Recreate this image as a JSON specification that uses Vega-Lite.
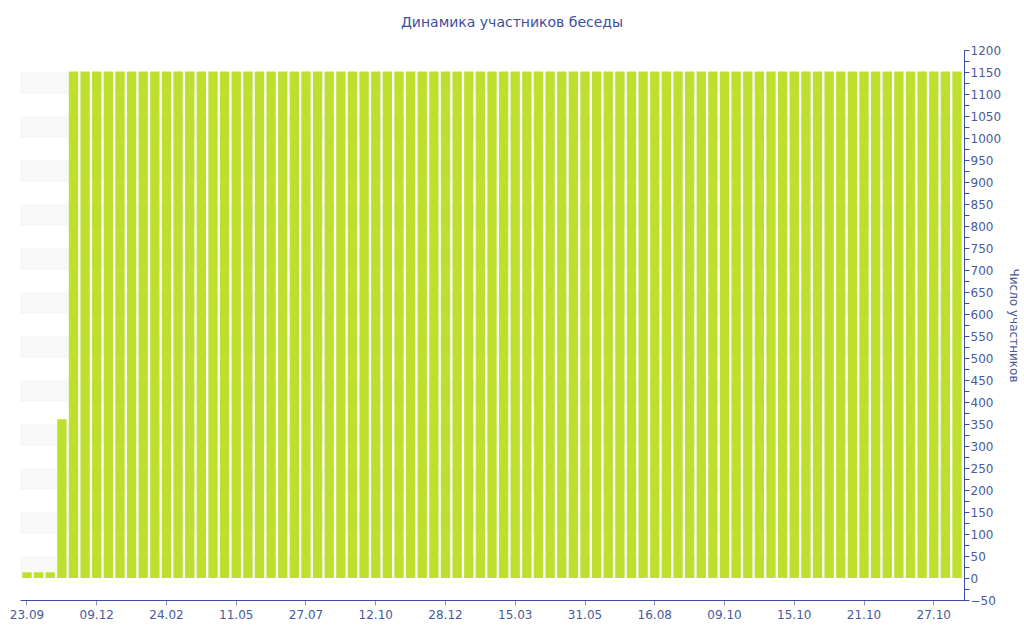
{
  "$schema": "https://vega.github.io/schema/vega-lite/v6.json",
  "width": 944,
  "height": 550,
  "autosize": {"type": "none"},
  "padding": {"left": 20, "top": 50, "right": 60, "bottom": 40},
  "background": "white",
  "title": {
    "text": "Динамика участников беседы",
    "font": "DejaVu Sans",
    "fontSize": 14,
    "fontWeight": "normal",
    "color": "#3d4e9e",
    "anchor": "middle",
    "offset": 14,
    "dx": 20
  },
  "config": {"view": {"stroke": null}, "axis": {"labelOverlap": false}},
  "datasets": {
    "stripes": [
      {"lo": 0, "hi": 50}, {"lo": 100, "hi": 150}, {"lo": 200, "hi": 250}, {"lo": 300, "hi": 350},
      {"lo": 400, "hi": 450}, {"lo": 500, "hi": 550}, {"lo": 600, "hi": 650}, {"lo": 700, "hi": 750},
      {"lo": 800, "hi": 850}, {"lo": 900, "hi": 950}, {"lo": 1000, "hi": 1050}, {"lo": 1100, "hi": 1150}
    ],
    "members": [
      {"date": "23.09.2019", "count": 13},
      {"date": "06.10.2019", "count": 13},
      {"date": "19.10.2019", "count": 13},
      {"date": "01.11.2019", "count": 361},
      {"date": "14.11.2019", "count": 1151},
      {"date": "27.11.2019", "count": 1151},
      {"date": "09.12.2019", "count": 1151},
      {"date": "22.12.2019", "count": 1151},
      {"date": "04.01.2020", "count": 1151},
      {"date": "17.01.2020", "count": 1151},
      {"date": "30.01.2020", "count": 1151},
      {"date": "12.02.2020", "count": 1151},
      {"date": "24.02.2020", "count": 1151},
      {"date": "08.03.2020", "count": 1151},
      {"date": "21.03.2020", "count": 1151},
      {"date": "03.04.2020", "count": 1151},
      {"date": "16.04.2020", "count": 1151},
      {"date": "29.04.2020", "count": 1151},
      {"date": "11.05.2020", "count": 1151},
      {"date": "24.05.2020", "count": 1151},
      {"date": "06.06.2020", "count": 1151},
      {"date": "19.06.2020", "count": 1151},
      {"date": "02.07.2020", "count": 1151},
      {"date": "15.07.2020", "count": 1151},
      {"date": "27.07.2020", "count": 1151},
      {"date": "09.08.2020", "count": 1151},
      {"date": "22.08.2020", "count": 1151},
      {"date": "04.09.2020", "count": 1151},
      {"date": "17.09.2020", "count": 1151},
      {"date": "30.09.2020", "count": 1151},
      {"date": "12.10.2020", "count": 1151},
      {"date": "25.10.2020", "count": 1151},
      {"date": "07.11.2020", "count": 1151},
      {"date": "20.11.2020", "count": 1151},
      {"date": "03.12.2020", "count": 1151},
      {"date": "16.12.2020", "count": 1151},
      {"date": "28.12.2020", "count": 1151},
      {"date": "10.01.2021", "count": 1151},
      {"date": "23.01.2021", "count": 1151},
      {"date": "05.02.2021", "count": 1151},
      {"date": "18.02.2021", "count": 1151},
      {"date": "03.03.2021", "count": 1151},
      {"date": "15.03.2021", "count": 1151},
      {"date": "28.03.2021", "count": 1151},
      {"date": "10.04.2021", "count": 1151},
      {"date": "23.04.2021", "count": 1151},
      {"date": "06.05.2021", "count": 1151},
      {"date": "19.05.2021", "count": 1151},
      {"date": "31.05.2021", "count": 1151},
      {"date": "13.06.2021", "count": 1151},
      {"date": "26.06.2021", "count": 1151},
      {"date": "09.07.2021", "count": 1151},
      {"date": "22.07.2021", "count": 1151},
      {"date": "04.08.2021", "count": 1151},
      {"date": "16.08.2021", "count": 1151},
      {"date": "25.08.2021", "count": 1151},
      {"date": "03.09.2021", "count": 1151},
      {"date": "12.09.2021", "count": 1151},
      {"date": "21.09.2021", "count": 1151},
      {"date": "30.09.2021", "count": 1151},
      {"date": "09.10.2021", "count": 1151},
      {"date": "10.10.2021", "count": 1151},
      {"date": "11.10.2021", "count": 1151},
      {"date": "12.10.2021", "count": 1151},
      {"date": "13.10.2021", "count": 1151},
      {"date": "14.10.2021", "count": 1151},
      {"date": "15.10.2021", "count": 1151},
      {"date": "16.10.2021", "count": 1151},
      {"date": "17.10.2021", "count": 1151},
      {"date": "18.10.2021", "count": 1151},
      {"date": "19.10.2021", "count": 1151},
      {"date": "20.10.2021", "count": 1151},
      {"date": "21.10.2021", "count": 1151},
      {"date": "22.10.2021", "count": 1151},
      {"date": "23.10.2021", "count": 1151},
      {"date": "24.10.2021", "count": 1151},
      {"date": "25.10.2021", "count": 1151},
      {"date": "26.10.2021", "count": 1151},
      {"date": "27.10.2021", "count": 1151},
      {"date": "28.10.2021", "count": 1151},
      {"date": "29.10.2021", "count": 1151}
    ]
  },
  "layer": [
    {
      "data": {"name": "stripes"},
      "mark": {"type": "rect", "color": "#f8f8f8"},
      "encoding": {
        "y": {
          "field": "lo",
          "type": "quantitative",
          "scale": {"domain": [-50, 1200], "nice": false, "zero": false},
          "axis": {
            "orient": "right",
            "title": "Число участников",
            "titleFont": "DejaVu Sans",
            "titleFontSize": 12,
            "titleFontWeight": "normal",
            "titleColor": "#4a5a9a",
            "titleAngle": 90,
            "titlePadding": 6,
            "values": [-50, -25, 0, 25, 50, 75, 100, 125, 150, 175, 200, 225, 250, 275, 300, 325, 350, 375, 400, 425, 450, 475, 500, 525, 550, 575, 600, 625, 650, 675, 700, 725, 750, 775, 800, 825, 850, 875, 900, 925, 950, 975, 1000, 1025, 1050, 1075, 1100, 1125, 1150, 1175, 1200],
            "format": "d",
            "labelExpr": "datum.value % 50 == 0 ? datum.label : ''",
            "labelFont": "DejaVu Sans",
            "labelFontSize": 12,
            "labelColor": "#4a5a9a",
            "labelPadding": 1,
            "labelOverlap": false,
            "labelBound": false,
            "labelFlush": false,
            "domainColor": "#3b4ea0",
            "tickColor": "#3b4ea0",
            "tickSize": 5,
            "grid": false
          }
        },
        "y2": {"field": "hi"}
      }
    },
    {
      "data": {"name": "members"},
      "mark": {"type": "bar", "color": "#bde02f"},
      "encoding": {
        "x": {
          "field": "date",
          "type": "ordinal",
          "sort": null,
          "scale": {"paddingInner": 0.2, "paddingOuter": 0.2},
          "axis": {
            "title": null,
            "values": ["23.09.2019", "09.12.2019", "24.02.2020", "11.05.2020", "27.07.2020", "12.10.2020", "28.12.2020", "15.03.2021", "31.05.2021", "16.08.2021", "09.10.2021", "15.10.2021", "21.10.2021", "27.10.2021"],
            "labelExpr": "substring(datum.value, 0, 5)",
            "labelAngle": 0,
            "labelFont": "DejaVu Sans",
            "labelFontSize": 12,
            "labelColor": "#4a5a9a",
            "labelPadding": 4,
            "domainColor": "#3b4ea0",
            "tickColor": "#8a90b0",
            "tickSize": 5,
            "bandPosition": 0.5,
            "labelOverlap": false
          }
        },
        "y": {
          "field": "count",
          "type": "quantitative",
          "scale": {"domain": [-50, 1200], "nice": false, "zero": false},
          "axis": {
            "orient": "right",
            "title": "Число участников",
            "titleFont": "DejaVu Sans",
            "titleFontSize": 12,
            "titleFontWeight": "normal",
            "titleColor": "#4a5a9a",
            "titleAngle": 90,
            "titlePadding": 6,
            "values": [-50, -25, 0, 25, 50, 75, 100, 125, 150, 175, 200, 225, 250, 275, 300, 325, 350, 375, 400, 425, 450, 475, 500, 525, 550, 575, 600, 625, 650, 675, 700, 725, 750, 775, 800, 825, 850, 875, 900, 925, 950, 975, 1000, 1025, 1050, 1075, 1100, 1125, 1150, 1175, 1200],
            "format": "d",
            "labelExpr": "datum.value % 50 == 0 ? datum.label : ''",
            "labelFont": "DejaVu Sans",
            "labelFontSize": 12,
            "labelColor": "#4a5a9a",
            "labelPadding": 1,
            "labelOverlap": false,
            "labelBound": false,
            "labelFlush": false,
            "domainColor": "#3b4ea0",
            "tickColor": "#3b4ea0",
            "tickSize": 5,
            "grid": false
          }
        }
      }
    }
  ]
}
